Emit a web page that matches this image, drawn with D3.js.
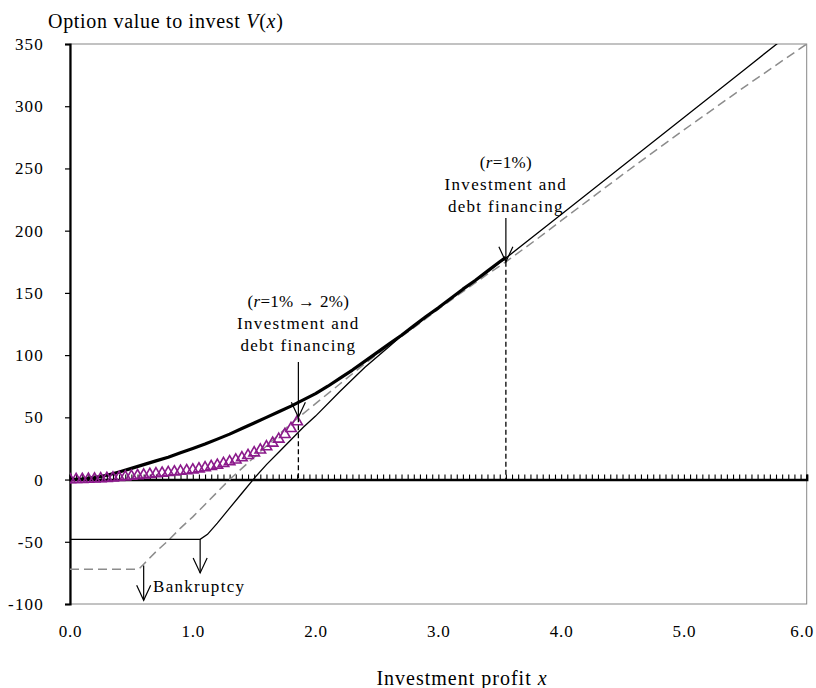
<!DOCTYPE html>
<html><head><meta charset="utf-8">
<script src="https://cdn.jsdelivr.net/npm/d3@7"></script>
<style>
html,body{margin:0;padding:0;background:#fff;}
svg{display:block;}
svg text{font-family:"Liberation Serif","Times New Roman",serif;fill:#000;}
</style></head>
<body><svg id="c" width="816" height="688"></svg>
<script>
// ---- data ----
const xTicks = [0,1,2,3,4,5,6];
const yTicks = [-100,-50,0,50,100,150,200,250,300,350];

// Option value, r = 1% (thick solid, until investment at 3.55)
const optX = [0,0.1,0.2,0.3,0.4,0.5,0.6,0.7,0.8,0.9,1.0,1.1,1.2,1.3,1.4,1.5,1.6,1.7,1.8,1.9,2.0,2.1,2.2,2.3,2.4,2.5,2.6,2.7,2.8,2.9,3.0,3.1,3.2,3.3,3.4,3.5,3.55];
const optY = [0,0.5,1.5,3.5,6,9,12,15,18,21.5,25,28.5,32.5,36.5,41,45.5,50,54.5,59,64,69,75,81.5,88,95,102,109,116,123.5,131,138,145.5,153,160,167.5,175,178.5];

// Value after investment, r = 1% (thin solid)
const npv1X = [0,1.06,1.12,1.2,1.3,1.4,1.5,1.6,1.7,1.8,1.9,2.0,2.2,2.4,2.6,2.7,2.8,3.0,3.2,3.4,3.55,4.0,4.5,5.0,5.5,6.0];
const npv1Y = [-48,-48,-44,-35,-23,-11,1,12,22,32,42,51,71,90,107,115.5,123,138,153,167,178,213,252,291,330,369];

// Value after investment, r = 2% (grey dashed)
const npv2X = [0,0.56,0.6,0.7,0.8,0.9,1.0,1.1,1.2,1.3,1.4,1.5,1.6,1.7,1.8,1.9,2.0,2.2,2.4,2.6,2.8,3.0,3.2,3.4,3.55,3.8,4.0,4.5,5.0,5.5,6.0];
const npv2Y = [-72,-72,-68,-58,-49,-39,-30,-20,-10,0,9,18,27,36,45,53,61,77,93,108,122,137,151,165,175,193,208,245,281,316,350];

// Option value, r = 1% -> 2% (purple triangles)
const triX = [0,0.05,0.1,0.15,0.2,0.25,0.3,0.35,0.4,0.45,0.5,0.55,0.6,0.65,0.7,0.75,0.8,0.85,0.9,0.95,1.0,1.05,1.1,1.15,1.2,1.25,1.3,1.35,1.4,1.45,1.5,1.55,1.6,1.65,1.7,1.75,1.8,1.85];
const triY = [0,0.1,0.2,0.3,0.5,0.7,1.0,1.3,1.7,2.2,2.7,3.2,3.7,4.2,4.7,5.2,5.7,6.2,6.7,7.2,7.8,8.6,9.5,10.5,11.6,12.9,14.3,15.8,17.5,19.4,21.5,23.8,26.4,29.3,32.5,36.2,41,46.5];

// minor ticks on the zero line (x step 0.05)
const minorTicks = d3.range(0, 121).map(i => i * 0.05);

// annotations
const thresholds = [
  {x:1.86, tip:50, top:362, lines:["(r=1% \u2192 2%)","Investment and","debt financing"], textY:301},
  {x:3.55, tip:175, top:218, lines:["(r=1%)","Investment and","debt financing"], textY:162}
];
const bankrupt = [{x:1.06, from:-48, to:-75}, {x:0.60, from:-69, to:-97}];

// ---- layout ----
const L = 70, R = 806.7, T = 44, B = 604;
const svg = d3.select("#c");
const x = d3.scaleLinear().domain([0,6]).range([L,R]);
const y = d3.scaleLinear().domain([-100,350]).range([B,T]);

svg.append("defs").append("clipPath").attr("id","clip")
  .append("rect").attr("x",L).attr("y",T).attr("width",R-L).attr("height",B-T);

// plot border (grey)
svg.append("rect").attr("x",L).attr("y",T).attr("width",R-L).attr("height",B-T)
  .attr("fill","none").attr("stroke","#868686").attr("stroke-width",1);

// y axis
const yAx = svg.append("g").attr("transform",`translate(${L},0)`)
  .call(d3.axisLeft(y).tickValues(yTicks).tickSize(5).tickPadding(21).tickFormat(d => String(d)));
yAx.attr("font-family",null);
yAx.select(".domain").attr("stroke","#000").attr("stroke-width",2.2);
yAx.selectAll(".tick line").attr("stroke","#000").attr("stroke-width",1.2);
yAx.selectAll("text").attr("font-size",17).attr("letter-spacing",1.2);

// x labels at bottom
const xAx = svg.append("g").attr("transform",`translate(0,${B})`)
  .call(d3.axisBottom(x).tickValues(xTicks).tickSize(0).tickPadding(21).tickFormat(d3.format(".1f")));
xAx.attr("font-family",null);
xAx.select(".domain").remove();
xAx.selectAll("text").attr("font-size",17).attr("letter-spacing",0.8)
  .attr("dx", d => d === 6 ? -5 : 0);

// zero line with minor ticks
const zAx = svg.append("g").attr("transform",`translate(0,${y(0)})`)
  .call(d3.axisTop(x).tickValues(minorTicks).tickSize(5).tickFormat(""));
zAx.select(".domain").attr("stroke","#000").attr("stroke-width",2.4);
zAx.selectAll(".tick line").attr("stroke","#000").attr("stroke-width",1.1);

const plot = svg.append("g").attr("clip-path","url(#clip)");
const line = d3.line().x(d=>x(d[0])).y(d=>y(d[1]));
const zip = (a,b) => a.map((v,i)=>[v,b[i]]);

plot.append("path").datum(zip(npv2X,npv2Y)).attr("d",line)
  .attr("fill","none").attr("stroke","#8c8c8c").attr("stroke-width",1.5).attr("stroke-dasharray","9,5");
plot.append("path").datum(zip(npv1X,npv1Y)).attr("d",line)
  .attr("fill","none").attr("stroke","#000").attr("stroke-width",1.3);
plot.append("path").datum(zip(optX,optY)).attr("d",line)
  .attr("fill","none").attr("stroke","#000").attr("stroke-width",3.2).attr("stroke-linejoin","round");

// triangles
plot.selectAll("path.tri").data(zip(triX,triY)).join("path").attr("class","tri")
  .attr("d", d3.symbol().type(d3.symbolTriangle).size(48))
  .attr("transform", d=>`translate(${x(d[0])},${y(d[1])})`)
  .attr("fill","none").attr("stroke","#8b1a8b").attr("stroke-width",1.6);

// arrows helper
function arrow(g, px, y1, y2){
  g.append("line").attr("x1",px).attr("x2",px).attr("y1",y1).attr("y2",y2)
    .attr("stroke","#000").attr("stroke-width",1.2);
  g.append("path").attr("d",`M${px-7},${y2-15} L${px},${y2} L${px+7},${y2-15}`)
    .attr("fill","none").attr("stroke","#000").attr("stroke-width",1.2);
}
const ann = svg.append("g");
thresholds.forEach(t=>{
  const px = x(t.x);
  arrow(ann, px, t.top, y(t.tip));
  ann.append("line").attr("x1",px).attr("x2",px).attr("y1",y(t.tip)).attr("y2",y(0))
    .attr("stroke","#000").attr("stroke-width",1.3).attr("stroke-dasharray","5,3");
  t.lines.forEach((s,i)=>{
    const tx = ann.append("text").attr("x",px).attr("y",t.textY + i*22).attr("dy","0.35em")
      .attr("text-anchor","middle").attr("font-size",17).attr("letter-spacing", i===0?0.3:1.3);
    if(i===0){
      tx.append("tspan").text("(");
      tx.append("tspan").attr("font-style","italic").text("r");
      tx.append("tspan").text(s.slice(2));
    } else tx.text(s);
  });
});
bankrupt.forEach(b=> arrow(ann, x(b.x), y(b.from), y(b.to)));
ann.append("text").attr("x",153).attr("y",586).attr("dy","0.35em").attr("font-size",17)
  .attr("letter-spacing",1.3).text("Bankruptcy");

// titles
const yt = svg.append("text").attr("x",48).attr("y",21).attr("dy","0.35em").attr("font-size",20).attr("letter-spacing",0.7);
yt.append("tspan").text("Option value to invest ");
yt.append("tspan").attr("font-style","italic").text("V");
yt.append("tspan").text("(");
yt.append("tspan").attr("font-style","italic").text("x");
yt.append("tspan").text(")");

const xt = svg.append("text").attr("x",462).attr("y",678).attr("dy","0.35em").attr("font-size",20)
  .attr("text-anchor","middle").attr("letter-spacing",1.0);
xt.append("tspan").text("Investment profit  ");
xt.append("tspan").attr("font-style","italic").text("x");
</script></body></html>
